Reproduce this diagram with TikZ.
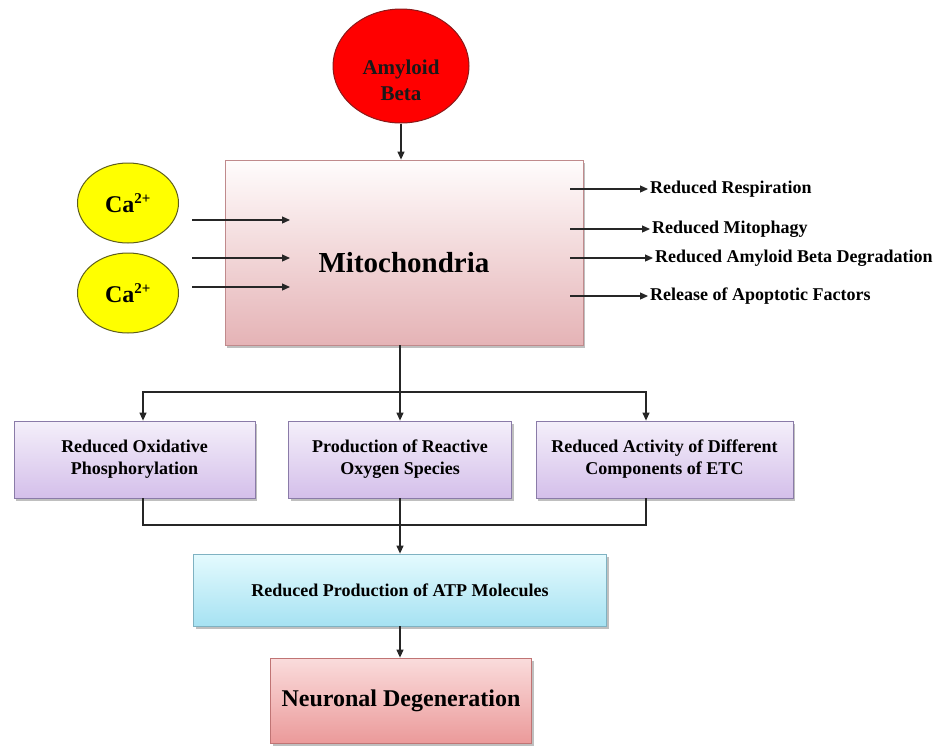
\documentclass[tikz,border=0pt]{standalone}
\usepackage{fontspec}
\setmainfont{Liberation Serif}
\usetikzlibrary{arrows.meta,positioning,shapes.geometric,shadows}
\definecolor{abred}{HTML}{FF0000}
\definecolor{abline}{HTML}{8B1A1A}
\definecolor{cayellow}{HTML}{FFFF00}
\definecolor{caline}{HTML}{5E5E1E}
\definecolor{mitotop}{HTML}{FFFCFC}
\definecolor{mitobot}{HTML}{E5B3B6}
\definecolor{mitoline}{HTML}{C08A8C}
\definecolor{purtop}{HTML}{F4EFFA}
\definecolor{purbot}{HTML}{D4BFEA}
\definecolor{purline}{HTML}{8A7BA8}
\definecolor{atptop}{HTML}{E4FAFE}
\definecolor{atpbot}{HTML}{A6E2F2}
\definecolor{atpline}{HTML}{7FB2C2}
\definecolor{neutop}{HTML}{FADCDC}
\definecolor{neubot}{HTML}{EB9A9A}
\definecolor{neuline}{HTML}{C07474}

\begin{document}
\begin{tikzpicture}[x=1pt,y=1pt,
    arr/.style={-{Triangle[length=8pt,width=7pt]},line width=1.2pt,black!85},
    link/.style={line width=1.2pt,black!85},
    box/.style={rectangle,draw,line width=.8pt,align=center,inner sep=2pt,
      font=\bfseries\fontsize{18}{22}\selectfont,
      drop shadow={shadow xshift=2pt,shadow yshift=-2.5pt,opacity=.5}},
    mitobox/.style={box,draw=mitoline,top color=mitotop,bottom color=mitobot,
      minimum width=358,minimum height=185,font=\bfseries\fontsize{29}{34}\selectfont},
    purbox/.style={box,draw=purline,top color=purtop,bottom color=purbot,minimum height=77},
    atpbox/.style={box,draw=atpline,top color=atptop,bottom color=atpbot,
      minimum width=413,minimum height=72},
    neubox/.style={box,draw=neuline,top color=neutop,bottom color=neubot,
      minimum width=261,minimum height=85,font=\bfseries\fontsize{24}{28}\selectfont},
    cacirc/.style={ellipse,draw=caline,fill=cayellow,line width=1pt,minimum width=101,
      minimum height=80,inner sep=0pt,font=\bfseries\fontsize{24}{28}\selectfont},
    outlabel/.style={anchor=west,inner sep=2pt,font=\bfseries\fontsize{18}{22}\selectfont}]
  \useasboundingbox (0,0) rectangle (937,-745);

  \node[ellipse,draw=abline,fill=abred,line width=1pt,minimum width=136,minimum height=114]
    (ab) at (401,-66) {};
  \node[align=center,font=\bfseries\fontsize{21}{26}\selectfont,text=black!90] (abtext)
    at ([yshift=-14]ab.center) {Amyloid\\Beta};

  \node[mitobox] (mito) at (404,-252.5) {\raisebox{-20pt}[0pt][0pt]{Mitochondria}};
  \draw[arr] (ab.south) -- (ab.south |- mito.north);

  \node[cacirc] (ca1) at (128,-203) {Ca\textsuperscript{\fontsize{15}{16}\selectfont 2+}};
  \node[cacirc] (ca2) at (128,-293) {Ca\textsuperscript{\fontsize{15}{16}\selectfont 2+}};

  \foreach \y [count=\i] in {220,258,287} {
    \coordinate (in\i) at (192,-\y);
    \coordinate (tip\i) at (290,-\y);
    \draw[arr] (in\i) -- (tip\i);
  }

  \foreach \y/\x/\t [count=\i] in {189/648/Reduced Respiration,
      229/650/Reduced Mitophagy,
      258/653/Reduced Amyloid Beta Degradation,
      296/648/Release of Apoptotic Factors} {
    \node[outlabel] (out\i) at (\x,-\y) {\t};
    \coordinate (src\i) at (570,-\y);
    \draw[arr] (src\i) -- (out\i.west);
  }

  \node[purbox,minimum width=241] (oxphos) at (134.5,-459.5) {Reduced Oxidative\\Phosphorylation};
  \node[purbox,minimum width=223] (ros) at (400,-459.5) {Production of Reactive\\Oxygen Species};
  \node[purbox,minimum width=257] (etc) at (664.5,-459.5) {Reduced Activity of Different\\Components of ETC};

  \coordinate (split) at (400,-392);
  \draw[link] (split |- mito.south) -- (split);
  \draw[arr] (split) -| ([xshift=8.5]oxphos.north);
  \draw[arr] (split) -- (ros.north);
  \draw[arr] (split) -| ([xshift=-18.5]etc.north);

  \node[atpbox] (atp) at (400,-590) {Reduced Production of ATP Molecules};
  \coordinate (join) at (400,-525);
  \draw[link] ([xshift=8.5]oxphos.south) |- (join) -| ([xshift=-18.5]etc.south);
  \draw[arr] (ros.south) -- (atp.north);

  \node[neubox] (neu) at (401,-700.5) {Neuronal Degeneration};
  \draw[arr] (atp.south) -- (atp.south |- neu.north);
\end{tikzpicture}
\end{document}
